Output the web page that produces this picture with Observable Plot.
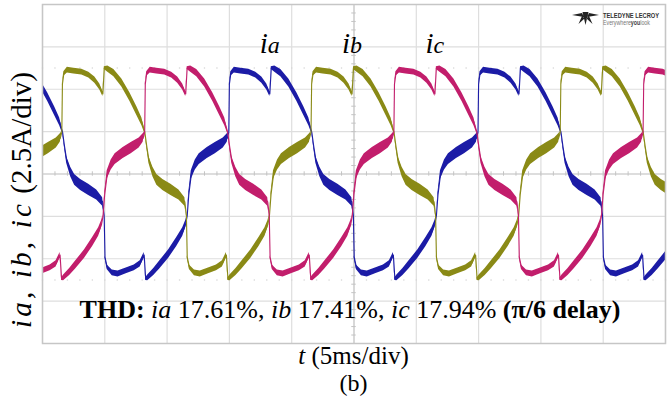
<!DOCTYPE html>
<html>
<head>
<meta charset="utf-8">
<script src="https://cdn.jsdelivr.net/npm/d3@7"></script>
<script src="https://cdn.jsdelivr.net/npm/@observablehq/plot@0.6"></script>
<style>
  body { margin: 0; background: #fff; }
  #chart svg { display: block; }
  #chart svg text.cap { font-family: "Liberation Serif", "Times New Roman", serif; fill: #000; }
  #chart svg text.badge { font-family: "Liberation Sans", Arial, sans-serif; }
</style>
</head>
<body>
<div id="chart"></div>
<script>
// Three-phase line currents, 5 ms/div and 2.5 A/div, pi/6 firing delay.
const phases = ["ia", "ib", "ic"];
const phaseColors = ["#1c1ca6", "#8a8a16", "#c21e6c"];
const riseCrossingMs = [14.95, 21.55, 28.2];   // instant each phase rises through +2.5 A
const periodMs = 20;

// One cycle of the current, angle after the rising +2.5 A crossing (deg),
// current (A) and the switching-ripple half band (A).
const cycleDeg = [
  0, 0.9, 2.9, 8, 17.4, 28.9, 39, 47.7, 54.9, 59.3, 61.4,
  66.5, 75.2, 86.7, 98.3, 108.4, 115.7, 120,
  122.9, 125.8, 131.6, 137.3, 146, 157.6, 169.2, 177.8, 180,
  181.2, 184.3, 191.6, 200, 211.8, 223.4, 232, 237.8, 240,
  242.9, 251.6, 260.2, 273.2, 284.8, 293.5, 297.8, 300,
  302.2, 305.8, 311.6, 317.3, 328.9, 340.5, 352, 357.8, 360
];
const cycleAmps = [
  2.45, 5.3, 5.9, 6.13, 6.07, 6.01, 5.84, 5.54, 5.13, 4.72, 6.25,
  6.19, 5.95, 5.37, 4.54, 3.71, 3.07, 2.45,
  1.59, 0.83, 0.12, -0.35, -0.65, -0.94, -1.24, -1.65, -2.45,
  -4.9, -5.5, -5.84, -5.9, -5.72, -5.54, -5.3, -4.78, -6.2,
  -6.13, -5.78, -5.37, -4.72, -4.01, -3.42, -2.95, -2.45,
  -1.24, -0.06, 0.53, 0.88, 1.24, 1.53, 1.83, 2.12, 2.45
];
const rippleAmps = [
  0.04, 0.08, 0.13, 0.17, 0.17, 0.17, 0.17, 0.18, 0.18, 0.15, 0.08,
  0.18, 0.21, 0.23, 0.25, 0.26, 0.23, 0.08,
  0.12, 0.2, 0.28, 0.32, 0.33, 0.33, 0.3, 0.25, 0.04,
  0.08, 0.13, 0.17, 0.17, 0.17, 0.17, 0.18, 0.15, 0.08,
  0.17, 0.21, 0.23, 0.25, 0.26, 0.25, 0.2, 0.04,
  0.15, 0.25, 0.3, 0.32, 0.33, 0.33, 0.3, 0.25, 0.04
];

const thdPercent = ["17.61%", "17.41%", "17.94%"];
const timeGridMs = [0, 5, 10, 15, 20, 25, 30, 35, 40, 45, 50];
const currentGridA = [-10, -7.5, -5, -2.5, 0, 2.5, 5, 7.5, 10];
const minorTimeMs = d3.range(0, 50.01, 1);
const minorCurrentA = d3.range(-10, 10.01, 0.5);
const cursorLevelsA = [6.25, -6.25];

// Lay the cycle out along the 50 ms screen for every phase.
const rows = [];
phases.forEach((name, p) => {
  for (let k = -2; k <= 2; k++) {
    cycleDeg.forEach((deg, j) => {
      if (j === 0 && k > -2) return;
      const t = riseCrossingMs[p] + (k + deg / 360) * periodMs;
      if (t < -3 || t > 53) return;
      rows.push({phase: name, t, i: cycleAmps[j], r: rippleAmps[j]});
    });
  }
});

const cursorDots = cursorLevelsA.flatMap(a => minorTimeMs.map(t => ({t, a})));

const plot = Plot.plot({
  width: 672,
  height: 396,
  marginLeft: 42,
  marginRight: 7,
  marginTop: 4,
  marginBottom: 53,
  x: {domain: [0, 50], axis: null},
  y: {domain: [-10, 10], axis: null},
  color: {domain: phases, range: phaseColors},
  style: {background: "#fff", overflow: "visible"},
  marks: [
    Plot.ruleX(timeGridMs, {stroke: "#dedede", strokeWidth: 1.2}),
    Plot.ruleY(currentGridA, {stroke: "#dedede", strokeWidth: 1.2}),
    Plot.ruleX([25], {stroke: "#cccccc", strokeWidth: 1.2}),
    Plot.ruleY([0], {stroke: "#cccccc", strokeWidth: 1.2}),
    Plot.ruleX(minorTimeMs, {y1: -0.13, y2: 0.13, stroke: "#c4c4c4"}),
    Plot.ruleY(minorCurrentA, {x1: 24.82, x2: 25.18, stroke: "#c4c4c4"}),
    Plot.dot(cursorDots, {x: "t", y: "a", r: 0.8, fill: "#d6d6d6", stroke: null}),
    Plot.areaY(rows, {
      x: "t", y1: d => d.i - d.r, y2: d => d.i + d.r,
      z: "phase", fill: "phase", curve: "linear", clip: true
    }),
    Plot.line(rows, {
      x: "t", y: "i", z: "phase", stroke: "phase",
      strokeWidth: 1.1, curve: "linear", clip: true
    }),
    Plot.frame({stroke: "#c6c6c6", strokeWidth: 1.5})
  ]
});

document.getElementById("chart").append(plot);

const x = plot.scale("x");
const svg = d3.select(plot);

function caption(px, py, size) {
  return svg.append("text")
    .attr("class", "cap")
    .attr("x", px).attr("y", py)
    .attr("text-anchor", "middle")
    .attr("font-size", size)
    .style("white-space", "pre");
}

// Phase names above their positive half-waves.
phases.forEach((name, p) => {
  const t = caption(x.apply(riseCrossingMs[p] + periodMs / 6), 53, 29)
    .attr("font-style", "italic");
  t.append("tspan").text("i");
  t.append("tspan").attr("font-size", 24).text(name.slice(1));
});

// THD summary.
const thd = caption(350, 318, 26);
thd.append("tspan").attr("font-weight", "bold").text("THD: ");
phases.forEach((name, p) => {
  thd.append("tspan").attr("font-style", "italic").text(name);
  thd.append("tspan").text(" " + thdPercent[p] + (p < 2 ? ", " : " "));
});
thd.append("tspan").attr("font-weight", "bold").text("(π/6 delay)");

// Axis captions.
const xl = caption(x.apply(25), 364, 25);
xl.append("tspan").attr("font-style", "italic").text("t");
xl.append("tspan").text(" (5ms/div)");

caption(x.apply(25), 391, 24).text("(b)");

const yl = caption(0, 0, 29)
  .attr("transform", "translate(31,200) rotate(-90)");
yl.append("tspan").attr("font-style", "italic").attr("letter-spacing", 3.2).text("ia, ib, ic");
yl.append("tspan").text(" (2.5A/div)");

// Scope maker's badge, top right of the screen.
const badge = svg.append("g").attr("transform", "translate(572,11)");
badge.append("path")
  .attr("d", "M0,4L10,2L12,6Z M27,4L17,2L15,6Z M10.5,1L16.5,1L13.5,14Z M10,5L12.5,7.5L6.5,13Z M17,5L14.5,7.5L20.5,13Z")
  .attr("fill", "#222");
const words = badge.append("g").attr("transform", "translate(31,0) scale(0.8,1)");
words.append("text")
  .attr("class", "badge")
  .attr("x", 0).attr("y", 7)
  .attr("text-anchor", "start")
  .attr("font-weight", "bold").attr("font-size", 7.2).attr("fill", "#333")
  .text("TELEDYNE LECROY");
const motto = words.append("text")
  .attr("class", "badge")
  .attr("x", 0).attr("y", 14)
  .attr("text-anchor", "start")
  .attr("font-size", 6.6).attr("fill", "#777");
motto.append("tspan").text("Everywhere");
motto.append("tspan").attr("font-weight", "bold").attr("fill", "#444").text("you");
motto.append("tspan").text("look");
</script>
</body>
</html>
